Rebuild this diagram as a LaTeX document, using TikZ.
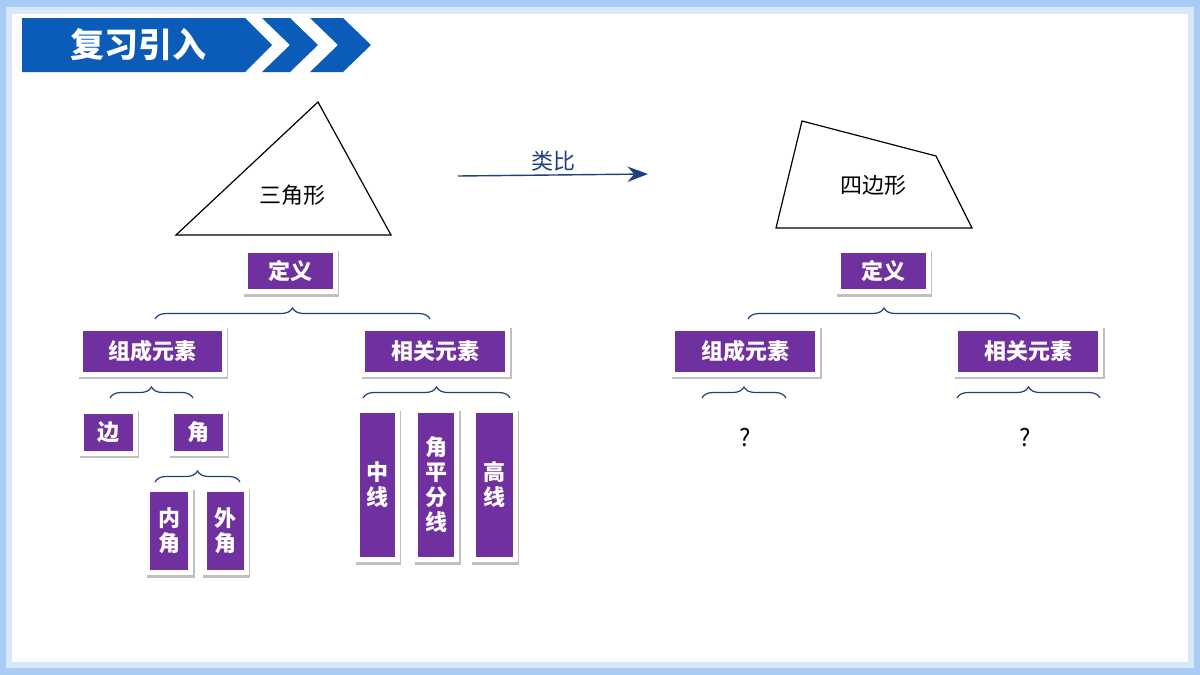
\documentclass[tikz,border=0pt]{standalone}
\usepackage{fontspec}
\setmainfont{Noto Sans CJK SC}
\usetikzlibrary{shadows,decorations.pathreplacing,positioning,arrows.meta}
\definecolor{boxpurple}{HTML}{7030A0}
\definecolor{bracenavy}{HTML}{1F3F7F}
\definecolor{bannerblue}{HTML}{0A5CB8}
\definecolor{frameblue}{HTML}{A9CCF5}

\begin{document}
\begin{tikzpicture}[
                    x=1pt, y=-1pt,
                    item/.style={
                        rectangle,
                        fill=white,
                        general shadow={fill=black!50, shadow xshift=1.5pt, shadow yshift=-2.5pt, opacity=0.5},
                        path picture={
                            \fill[boxpurple] ([shift={(5pt,-5pt)}]path picture bounding box.north west)
                                rectangle ([shift={(-5pt,5pt)}]path picture bounding box.south east);
                        },
                        text=white,
                        font=\fontsize{22}{25}\selectfont\bfseries,
                        align=center,
                        inner sep=0pt
                    },
                    bracket/.style={
                        draw=bracenavy,
                        line width=1.2pt,
                        decorate,
                        decoration={brace, amplitude=11pt}
                    },
                    shape label/.style={font=\fontsize{22}{24}\selectfont}
                ]
                \newcommand{\mkitem}[5]{
                    \node (#1) [item, minimum width=#3pt, minimum height=#4pt] at #5 {#2};
                }
                % frame and banner
                \useasboundingbox (0,0) rectangle (1200,675);
                \fill[frameblue] (0,0) rectangle (1200,675);
                \fill[frameblue!45] (6,7) rectangle (1194,668);
                \fill[white] (12,14) rectangle (1188,662);
                \fill[bannerblue] (22,18) -- (245,18) -- (272,45) -- (245,72) -- (22,72) -- cycle;
                \fill[bannerblue] (262,18) -- (290,18) -- (318,45) -- (290,72) -- (262,72) -- (290,45) -- cycle;
                \fill[bannerblue] (310,18) -- (343,18) -- (371,45) -- (343,72) -- (310,72) -- (338,45) -- cycle;
                \node (title) at (138,45) [text=white, font=\fontsize{34}{36}\selectfont\bfseries] {复习引入};

                % triangle and quadrilateral
                \draw[line width=1.2pt] (176,235) -- (318,102) -- (391,235) -- cycle;
                \node (tri) at (292,195) [shape label] {三角形};
                \draw[line width=1.2pt] (802,121) -- (936,156) -- (972,228) -- (776,228) -- cycle;
                \node (quad) at (873,185) [shape label] {四边形};
                \coordinate (from) at (458,176);
                \coordinate (to) at (648,174);
                \draw[-{Stealth[scale=2.2]}, bracenavy, line width=1.4pt] (from) -- node[above, text=bracenavy, font=\fontsize{22}{24}\selectfont] {类比} (to);

                % left tree
                \mkitem{defL}{定义}{95}{46}{(290,271)}
                \mkitem{partsL}{组成元素}{149}{51}{(152,351)}
                \mkitem{relL}{相关元素}{150}{51}{(435,351)}
                \mkitem{side}{边}{59}{47}{(108,432)}
                \mkitem{angle}{角}{59}{47}{(198,432)}
                \mkitem{inner}{内\\角}{48}{88}{(169,531)}
                \mkitem{outer}{外\\角}{47}{88}{(225,531)}
                \mkitem{median}{中\\线}{45}{154}{(377,485)}
                \mkitem{bisect}{角\\平\\分\\线}{46}{154}{(436,485)}
                \mkitem{height}{高\\线}{47}{154}{(494,485)}

                % right tree
                \mkitem{defR}{定义}{95}{46}{(883,271)}
                \mkitem{partsR}{组成元素}{150}{51}{(745,351)}
                \mkitem{relR}{相关元素}{150}{51}{(1028,351)}
                \node (qL) at (745,438) [font=\fontsize{24}{26}\selectfont] {?};
                \node (qR) at (1025,438) [font=\fontsize{24}{26}\selectfont] {?};

                % braces
                \draw[bracket] (155,319) -- (430,319);
                \draw[bracket] (110,398) -- (193,398);
                \draw[bracket] (155,482) -- (240,482);
                \draw[bracket] (363,398) -- (510,398);
                \draw[bracket] (748,319) -- (1020,319);
                \draw[bracket] (702,398) -- (786,398);
                \draw[bracket] (957,398) -- (1100,398);
            \end{tikzpicture}
\end{document}
